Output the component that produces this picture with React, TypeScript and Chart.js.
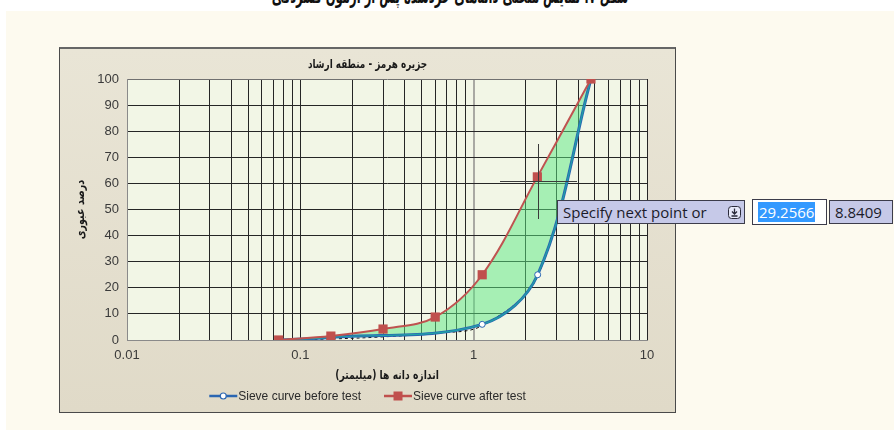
import React, { useEffect, useRef } from "react";
import { Chart, registerables } from "chart.js";

Chart.register(...registerables);

// ---- data ----
const sizesAfter = [0.075, 0.15, 0.3, 0.6, 1.12, 2.33, 4.75];
const passingAfter = [0, 1.5, 4.2, 8.8, 25, 62.5, 100];
const sizesBefore = [0.075, 0.15, 1.12, 2.34, 4.75];
const passingBefore = [0, 1, 6, 25, 100];
const sizesDashed = [0.075, 0.15, 0.3, 0.6, 1.12, 2.34, 4.75];
const passingDashed = [0, 0.4, 1.2, 2.6, 5.5, 24.5, 100];

const xGridValues = [
  0.01, 0.02, 0.03, 0.04, 0.05, 0.06, 0.07, 0.08, 0.09,
  0.1, 0.2, 0.3, 0.4, 0.5, 0.6, 0.7, 0.8, 0.9,
  1, 2, 3, 4, 5, 6, 7, 8, 9, 10,
];
const xLabelValues = [0.01, 0.1, 1, 10];
const xLabelTexts = ["0.01", "0.1", "1", "10"];

const seriesLabels = ["Sieve curve before test", "Sieve curve after test"];
const chartTitle = "جزیره هرمز - منطقه ارشاد";
const xTitle = "اندازه دانه ها (میلیمتر)";
const yTitle = "درصد عبوری";
const caption = "شکل ۷: نمایش منحنی دانه‌های خردشده پس از آزمون کشردگی";

const RED = "#c0504d";
const BLUE = "#2a66b2";
const TEAL = "#1fa2a6";

const pts = (xs: number[], ys: number[]) => xs.map((x, i) => ({ x, y: ys[i] }));

function rtlText(ctx: any, text: string, x: number, y: number, sx: number, rot = 0) {
  ctx.save();
  ctx.translate(x, y);
  if (rot) ctx.rotate(rot);
  ctx.scale(sx, 1);
  ctx.fillText(text, 0, 0);
  ctx.restore();
}

const decor = {
  id: "decor",
  beforeDraw(chart: any) {
    const { ctx, chartArea: a } = chart;
    ctx.save();
    ctx.fillStyle = "#f2f6e6";
    ctx.fillRect(a.left, a.top, a.right - a.left, a.bottom - a.top);
    ctx.restore();
  },
  afterDraw(chart: any) {
    const { ctx, chartArea: a } = chart;
    const W = chart.width;
    ctx.save();
    ctx.fillStyle = "#1a1a1a";
    ctx.font = 'bold 12px "DejaVu Sans"';
    ctx.direction = "rtl";
    ctx.textAlign = "center";
    ctx.textBaseline = "middle";
    rtlText(ctx, chartTitle, W / 2, 18, 0.74);
    rtlText(ctx, xTitle, (a.left + a.right) / 2, 329, 0.77);
    rtlText(ctx, yTitle, 22, (a.top + a.bottom) / 2, 0.8, -Math.PI / 2);

    // legend
    ctx.direction = "ltr";
    ctx.font = '12px "Liberation Sans"';
    ctx.textAlign = "left";
    const lineW = 28;
    const gap = 23;
    const w1 = ctx.measureText(seriesLabels[0]).width;
    const w2 = ctx.measureText(seriesLabels[1]).width;
    const total = lineW + 1 + w1 + gap + lineW + 1 + w2;
    let x = W / 2 - total / 2;
    const y = 349;
    // entry 1
    ctx.strokeStyle = BLUE;
    ctx.lineWidth = 2.5;
    ctx.beginPath();
    ctx.moveTo(x, y);
    ctx.lineTo(x + lineW, y);
    ctx.stroke();
    ctx.fillStyle = "#fff";
    ctx.lineWidth = 1.2;
    ctx.beginPath();
    ctx.arc(x + lineW / 2, y, 3, 0, Math.PI * 2);
    ctx.fill();
    ctx.stroke();
    ctx.fillStyle = "#2a2a2a";
    ctx.fillText(seriesLabels[0], x + lineW + 1, y + 1);
    x += lineW + 1 + w1 + gap;
    // entry 2
    ctx.strokeStyle = RED;
    ctx.lineWidth = 2.5;
    ctx.beginPath();
    ctx.moveTo(x, y);
    ctx.lineTo(x + lineW, y);
    ctx.stroke();
    ctx.fillStyle = RED;
    ctx.fillRect(x + lineW / 2 - 4.5, y - 4.5, 9, 9);
    ctx.fillStyle = "#2a2a2a";
    ctx.fillText(seriesLabels[1], x + lineW + 1, y + 1);
    ctx.restore();
  },
};

function ChartBox() {
  const ref = useRef<HTMLCanvasElement | null>(null);
  useEffect(() => {
    if (!ref.current) return;
    const chart = new Chart(ref.current, {
      type: "line",
      data: {
        datasets: [
          {
            label: seriesLabels[1],
            data: pts(sizesAfter, passingAfter),
            borderColor: "#bf5350",
            borderWidth: 2,
            pointStyle: "rect",
            pointRadius: 6.5,
            pointBackgroundColor: RED,
            pointBorderColor: RED,
            pointBorderWidth: 0,
            tension: 0.35,
            fill: 2,
            backgroundColor: "rgba(90, 232, 130, 0.5)",
          },
          {
            label: "overlay",
            data: pts(sizesBefore, passingBefore),
            borderColor: TEAL,
            borderWidth: 1.2,
            pointRadius: 3,
            pointBackgroundColor: "#fff",
            pointBorderColor: BLUE,
            pointBorderWidth: 1,
            tension: 0.35,
            fill: false,
          },
          {
            label: seriesLabels[0],
            data: pts(sizesBefore, passingBefore),
            borderColor: BLUE,
            borderWidth: 3,
            pointRadius: 0,
            tension: 0.35,
            fill: false,
          },
          {
            label: "dashed",
            data: pts(sizesDashed, passingDashed),
            borderColor: "#111",
            borderWidth: 1,
            borderDash: [3, 3],
            pointRadius: 0,
            tension: 0.35,
            fill: false,
          },
        ],
      },
      options: {
        animation: false,
        responsive: false,
        maintainAspectRatio: false,
        events: [],
        layout: { padding: { top: 32, right: 29, bottom: 0, left: 0 } },
        plugins: {
          legend: { display: false },
          title: { display: false },
          tooltip: { enabled: false },
          filler: { drawTime: "beforeDatasetsDraw" },
        } as any,
        scales: {
          x: {
            type: "logarithmic",
            min: 0.01,
            max: 10,
            afterBuildTicks: (scale: any) => {
              scale.ticks = xGridValues.map((v) => ({ value: v }));
            },
            afterFit: (scale: any) => {
              scale.height = 73;
            },
            ticks: {
              autoSkip: false,
              maxRotation: 0,
              padding: 8,
              color: "#3a3a3a",
              font: { family: "Liberation Sans", size: 13 },
              callback: (v: any) => {
                const i = xLabelValues.indexOf(Number(v));
                return i >= 0 ? xLabelTexts[i] : "";
              },
            },
            grid: {
              drawTicks: false,
              color: (c: any) => {
                const v = c.tick && c.tick.value;
                if (v === 1) return "#a9a9a3";
                if (v === 0.01) return "#8a8a8a";
                return "#262626";
              },
              lineWidth: (c: any) => (c.tick && c.tick.value === 1 ? 2 : 1),
            },
            border: { display: true, color: "#8a8a8a", width: 1 },
          },
          y: {
            type: "linear",
            min: 0,
            max: 100,
            afterFit: (scale: any) => {
              scale.width = 68;
            },
            ticks: {
              stepSize: 10,
              padding: 8,
              color: "#3a3a3a",
              font: { family: "Liberation Sans", size: 13 },
            },
            grid: {
              drawTicks: false,
              color: (c: any) => {
                const v = c.tick && c.tick.value;
                if (v === 0) return "#8a8a8a";
                if (v === 100) return "#707070";
                return "#262626";
              },
            },
            border: { display: true, color: "#8a8a8a", width: 1 },
          },
        },
      },
      plugins: [decor],
    } as any);
    return () => chart.destroy();
  }, []);
  return (
    <canvas
      ref={ref}
      width={617}
      height={366}
      style={{ position: "absolute", left: 59, top: 47, width: 617, height: 366 }}
    />
  );
}

export default function App() {
  const boxStyle: React.CSSProperties = {
    position: "absolute",
    background: "#c6c9e8",
    border: "1px solid #3c3c4a",
    boxSizing: "border-box",
    fontFamily: '"Open Sans", sans-serif',
    fontSize: 15,
    color: "#1b1b2a",
    display: "flex",
    alignItems: "center",
    whiteSpace: "nowrap",
  };
  return (
    <div
      style={{
        position: "fixed",
        left: 0,
        top: 0,
        width: 894,
        height: 430,
        background: "#ffffff",
        overflow: "hidden",
      }}
    >
      <div
        style={{
          position: "absolute",
          left: 0,
          top: 0,
          width: 894,
          height: 11,
          overflow: "hidden",
        }}
      >
        <div
          style={{
            position: "absolute",
            left: 0,
            width: 900,
            top: -17,
            textAlign: "center",
            direction: "rtl",
            fontFamily: '"DejaVu Sans", sans-serif',
            fontWeight: "bold",
            fontSize: 21,
            lineHeight: "26px",
            color: "#111",
            whiteSpace: "nowrap",
            transform: "scaleX(0.55)",
            transformOrigin: "450px 0",
          }}
        >
          {caption}
        </div>
      </div>
      <div
        style={{
          position: "absolute",
          left: 6,
          top: 11,
          width: 888,
          height: 419,
          background: "#fdfaef",
        }}
      />
      <div
        style={{
          position: "absolute",
          left: 59,
          top: 47,
          width: 617,
          height: 366,
          boxSizing: "border-box",
          border: "1px solid #4a4a4a",
          borderTop: "2px solid #666",
          background: "linear-gradient(#e9e5d6, #e0dac8)",
        }}
      />
      <ChartBox />
      {/* AutoCAD crosshair + dynamic input overlay */}
      <div style={{ position: "absolute", left: 500, top: 181, width: 77, height: 1, background: "#3a3a3a" }} />
      <div style={{ position: "absolute", left: 538, top: 144, width: 1, height: 75, background: "#3a3a3a" }} />
      <div style={{ ...boxStyle, left: 557, top: 200, width: 188, height: 24, paddingLeft: 5 }}>
        <span>Specify next point or</span>
        <svg width="13" height="13" style={{ position: "absolute", left: 170, top: 5 }}>
          <rect x="0.5" y="0.5" width="12" height="12" rx="3" fill="#e6e8f8" stroke="#2a2a3a" />
          <path d="M6.5 2.5 V7.5 M4 5.5 L6.5 8 L9 5.5 M3.5 10 H9.5" stroke="#2a2a3a" strokeWidth="1.3" fill="none" />
        </svg>
      </div>
      <div style={{ ...boxStyle, left: 752, top: 199, width: 75, height: 26, background: "#ffffff", paddingLeft: 5 }}>
        <span style={{ background: "#3399ff", color: "#ffffff", padding: "0 1px" }}>29.2566</span>
      </div>
      <div style={{ ...boxStyle, left: 829, top: 200, width: 64, height: 24, paddingLeft: 5 }}>
        <span>8.8409</span>
      </div>
    </div>
  );
}
